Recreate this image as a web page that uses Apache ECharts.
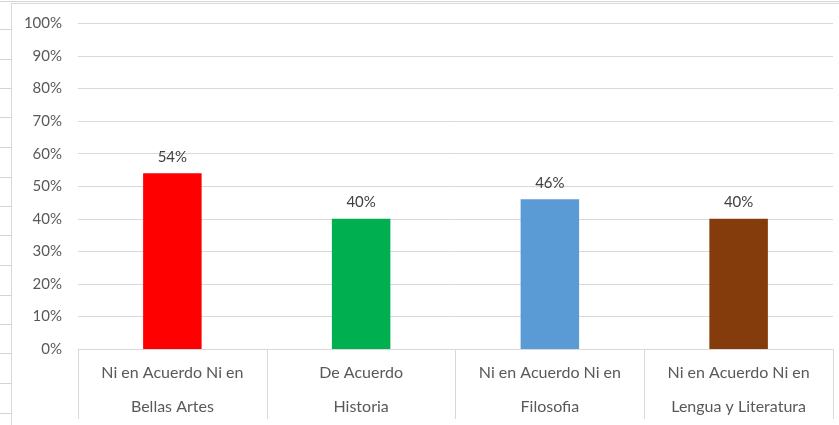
<!DOCTYPE html>
<html><head><meta charset="utf-8">
<script src="https://cdn.jsdelivr.net/npm/echarts@6/dist/echarts.min.js"></script>
<style>html,body{margin:0;padding:0;background:#fff}#c{width:839px;height:425px}</style>
</head><body><div id="c"></div>
<script>
const categories = ['Ni en Acuerdo Ni en\nBellas Artes', 'De Acuerdo\nHistoria', 'Ni en Acuerdo Ni en\nFilosofia', 'Ni en Acuerdo Ni en\nLengua y Literatura'];
const values = [54, 40, 46, 40];
const barColors = ['#FF0000', '#00B050', '#5B9BD5', '#843C0C'];
const yTicks = [0, 10, 20, 30, 40, 50, 60, 70, 80, 90, 100];

const chart = echarts.init(document.getElementById('c'), null, {renderer: 'canvas'});
const font = 'Lato, "Open Sans", sans-serif';
const sheetLines = [];
[29, 59, 88, 117, 147, 177, 206, 235, 265, 295, 324, 353, 383, 413].forEach(y => {
  sheetLines.push({type: 'line', shape: {x1: 0, y1: y + 0.5, x2: 11, y2: y + 0.5}, style: {stroke: '#D4D4D4', lineWidth: 1}, silent: true});
});
sheetLines.push({type: 'line', shape: {x1: 11.5, y1: 3, x2: 11.5, y2: 425}, style: {stroke: '#D9D9D9', lineWidth: 1}, silent: true});
sheetLines.push({type: 'line', shape: {x1: 0, y1: 1.5, x2: 839, y2: 1.5}, style: {stroke: '#D4D4D4', lineWidth: 1}, silent: true});
sheetLines.push({type: 'line', shape: {x1: 11, y1: 3.5, x2: 839, y2: 3.5}, style: {stroke: '#D9D9D9', lineWidth: 1}, silent: true});

chart.setOption({
  animation: false,
  textStyle: {fontFamily: font},
  grid: {left: 78, right: 6, top: 23.5, bottom: 76, containLabel: false},
  graphic: sheetLines,
  xAxis: {
    type: 'category',
    data: categories,
    axisLine: {show: true, lineStyle: {color: '#D9D9D9', width: 1}},
    axisTick: {show: true, length: 70, lineStyle: {color: '#D9D9D9'}},
    axisLabel: {color: '#595959', fontSize: 16, lineHeight: 34, margin: 7, fontFamily: font, interval: 0}
  },
  yAxis: {
    type: 'value',
    min: 0, max: 100, interval: 10,
    axisLine: {show: false},
    axisTick: {show: false},
    splitLine: {lineStyle: {color: '#D9D9D9', width: 1}},
    axisLabel: {color: '#595959', fontSize: 15, margin: 16, fontFamily: font,
      formatter: v => yTicks.includes(v) ? v + '%' : ''}
  },
  series: [{
    type: 'bar',
    data: values.map((v, i) => ({value: v, itemStyle: {color: barColors[i]}})),
    barWidth: '31%',
    label: {show: true, position: 'top', distance: 9, color: '#404040', fontSize: 15, fontFamily: font, formatter: p => p.value + '%'}
  }]
});
</script></body></html>
